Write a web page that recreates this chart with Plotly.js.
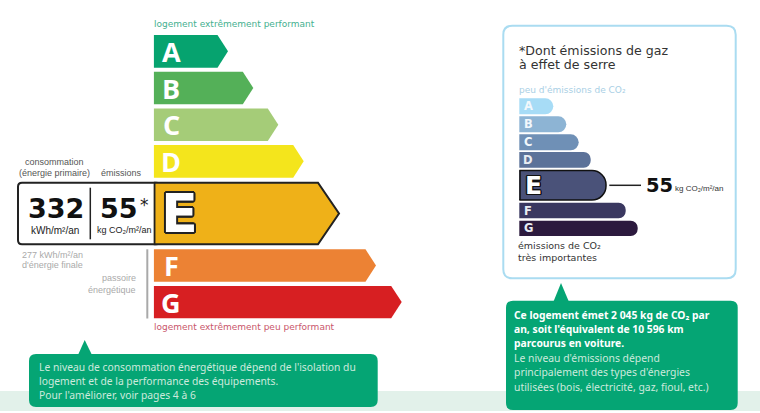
<!DOCTYPE html>
<html><head><meta charset="utf-8">
<script src="https://cdn.plot.ly/plotly-3.0.1.min.js"></script>
<style>html,body{margin:0;padding:0;background:#fff}#c{width:760px;height:413px}</style>
</head><body><div id="c"></div>
<script>
// Data
const energyGrades = ['A','B','C','D','E','F','G'];
const energyLengths = [74.3,99.6,124.6,150,185.3,222.3,248];
const energyColors = ['#06a36f','#54b058','#a5cc78','#f4e51c','#efb118','#ec8234','#d71f22'];
const co2Grades = ['A','B','C','D','E','F','G'];
const co2Lengths = [34,47,59.4,71.4,86.7,106.4,118.4];
const co2Colors = ['#a7dcf6','#8db4d4','#6f90b6','#5c7299','#4a5279','#3a3860','#2c1a3e'];
const energyValue = '332', co2Value = '55';

// Layout constants (pixels)
const W=760,H=413;
const energyCentres=[51.3,88,124.8,161.3,213.5,265.5,302.1], energyHeights=[32.7,32.7,32.5,32.7,61.6,32.4,32.4];
const co2Centres=[106.3,124.3,142.3,159.9,185.3,210.5,228.4], co2Heights=[16,16,16,15.7,29.4,15.7,15.4];
const OVERHANG=30; // part of each bar hidden left of the axis, so only its far end shows rounded
const px=x=>x/W, py=y=>1-y/H;
const DJ='"DejaVu Sans", sans-serif', LS='"Liberation Sans", Arial, sans-serif', NS='"Noto Sans", sans-serif', OS='"Open Sans", sans-serif';

const traces=[];
energyGrades.forEach((g,i)=>{
  const L=energyLengths[i],c=energyCentres[i],h=energyHeights[i],isE=g==='E',n=isE?21:10.5;
  traces.push({type:'scatter',mode:'lines',fill:'toself',fillcolor:energyColors[i],xaxis:'x',yaxis:'y',
    x:[0,L-n,L,L-n,0,0],y:[c-h/2,c-h/2,c,c+h/2,c+h/2,c-h/2],
    line:{color:isE?'#222':energyColors[i],width:isE?2:0},hoverinfo:'skip',showlegend:false,name:g});
});
co2Grades.forEach((g,i)=>{
  const isE=g==='E';
  traces.push({type:'bar',orientation:'h',xaxis:'x2',yaxis:'y2',
    x:[co2Lengths[i]+OVERHANG],y:[co2Centres[i]],width:[co2Heights[i]],base:-OVERHANG,
    marker:{color:co2Colors[i],cornerradius:isE?14:8,line:isE?{width:1.5,color:'#111'}:{width:0}},
    hoverinfo:'skip',showlegend:false,name:g});
});

const rr=(x0,y0,x1,y1,r)=>{
  const X=px,Y=py;
  return `M${X(x0+r)},${Y(y0)} L${X(x1-r)},${Y(y0)} Q${X(x1)},${Y(y0)} ${X(x1)},${Y(y0+r)} L${X(x1)},${Y(y1-r)} Q${X(x1)},${Y(y1)} ${X(x1-r)},${Y(y1)} L${X(x0+r)},${Y(y1)} Q${X(x0)},${Y(y1)} ${X(x0)},${Y(y1-r)} L${X(x0)},${Y(y0+r)} Q${X(x0)},${Y(y0)} ${X(x0+r)},${Y(y0)} Z`;
};
const P=(path,fill,line,layer)=>({type:'path',xref:'paper',yref:'paper',path,fillcolor:fill,line:line||{width:0},layer:layer||'below'});
const tri=(a,b,tx,ty,base)=>`M${px(a)},${py(base)} L${px(tx)},${py(ty)} L${px(b)},${py(base)} Z`;
const ln=(x0,y0,x1,y1,color,width)=>({type:'line',xref:'paper',yref:'paper',x0:px(x0),y0:py(y0),x1:px(x1),y1:py(y1),line:{color,width},layer:'above'});
const GREEN='#05a574';
const shapes=[
  {type:'rect',xref:'paper',yref:'paper',x0:0,x1:1,y0:py(411),y1:py(391),fillcolor:'#e2f1ea',line:{width:0},layer:'below'},
  P(rr(29,354,377.7,407,7),GREEN),
  P(tri(78,92,84.7,340,355),GREEN),
  P(rr(506,300.7,737.7,410,7),GREEN),
  P(tri(553.3,569,561,283,302),GREEN),
  P(rr(503.3,25.7,735.7,278.3,9),'#fff',{color:'#aadcf1',width:2}),
  P(rr(18,182.7,160,244.3,4),'#fff',{color:'#222',width:2}),
  ln(90.3,187.7,90.3,239.3,'#222',1.5),
  ln(154.7,182.7,154.7,244.3,'#222',1.5),
  ln(147.3,249.3,147.3,318.5,'#a9a9a9',2),
  ln(609.3,185.3,641,185.3,'#222',1.5),
  ln(520,170.6,520,200,'#111',1.5)
];
const T=(text,x,y,size,color,font,anchor,extra)=>Object.assign({text,xref:'paper',yref:'paper',x:px(x),y:py(y),
  xanchor:anchor||'left',yanchor:'middle',showarrow:false,borderpad:0,borderwidth:0,
  font:{size,color,family:font}},extra||{});
const stroke=(w,c)=>{const o=[];for(let a=0;a<16;a++){const t=a*Math.PI/8;o.push(`${(w*Math.cos(t)).toFixed(1)}px ${(w*Math.sin(t)).toFixed(1)}px 0 ${c}`);}return o.join(',');};
const annotations=[
  T('logement extrêmement performant',154,24,9,'#45b08f',DJ),
  T('logement extrêmement peu performant',154,326.7,9,'#c9566b',DJ),
  T('consommation',54,162,9,'#555',LS,'center'),
  T('(énergie primaire)',54,173,9,'#555',LS,'center'),
  T('émissions',121,173,9,'#555',LS,'center'),
  T('<b>'+energyValue+'</b>',56,208.5,27,'#111',DJ,'center'),
  T('<b>'+co2Value+'</b>',119.5,208.5,27,'#111',DJ,'center'),
  T('*',144,205,17,'#222',DJ,'center'),
  T('kWh/m²/an',54.5,230,10,'#222',LS,'center'),
  T('kg CO₂/m²/an',124,229.5,9,'#222',LS,'center'),
  T('277 kWh/m²/an',83,255,9,'#aaa',LS,'right'),
  T("d'énergie finale",83,265,9,'#aaa',LS,'right'),
  T('passoire',136,278,9,'#aaa',LS,'right'),
  T('énergétique',136,290,9,'#aaa',LS,'right'),
  T("Le niveau de consommation énergétique dépend de l'isolation du",39,367,10.3,'#cdeadd',NS),
  T('logement et de la performance des équipements.',39,381,10.3,'#cdeadd',NS),
  T("Pour l'améliorer, voir pages 4 à 6",39,395,10.3,'#cdeadd',NS),
  T('*Dont émissions de gaz',519,50,12.6,'#333',DJ),
  T('à effet de serre',519,64,12.6,'#333',DJ),
  T("peu d'émissions de CO₂",518.5,90,9,'#a9cfe5',DJ),
  T('émissions de CO₂',518,245,9.5,'#333',DJ),
  T('très importantes',518,257.5,9.5,'#333',DJ),
  T('<b>'+co2Value+'</b>',646,185,19.5,'#111',DJ),
  T('kg CO₂/m²/an',675,188,8,'#333',LS),
  T("<b>Ce logement émet 2 045 kg de CO₂ par</b>",514,315,10.3,'#fff',NS),
  T("<b>an, soit l'équivalent de 10 596 km</b>",514,329,10.3,'#fff',NS),
  T('<b>parcourus en voiture.</b>',514,343,10.3,'#fff',NS),
  T("Le niveau d'émissions dépend",514,358,10.4,'#cdeadd',NS),
  T("principalement des types d'énergies",514,372,10.4,'#cdeadd',NS),
  T('utilisées (bois, électricité, gaz, fioul, etc.)',514,386.5,10.4,'#cdeadd',NS)
];
energyGrades.forEach((g,i)=>{
  if(g==='E'){const a=T('<b>'+g+'</b>',179,213.5,54,'#fff',DJ,'center');a.font.shadow=stroke(2,'#222');annotations.push(a);}
  else annotations.push(T('<b>'+g+'</b>',171,energyCentres[i],27,'#fff',OS,'center'));
});
co2Grades.forEach((g,i)=>{
  if(g==='E'){const a=T('<b>'+g+'</b>',533,co2Centres[i],25,'#fff',DJ,'center');a.font.shadow=stroke(1.2,'#111');annotations.push(a);}
  else annotations.push(T('<b>'+g+'</b>',528,co2Centres[i],11.5,i<3?'#f2f8fc':'#e8ecf2',DJ,'center'));
});
const hid={visible:false,fixedrange:true};
const layout={width:W,height:H,margin:{l:0,r:0,t:0,b:0,pad:0},paper_bgcolor:'#fff',plot_bgcolor:'rgba(0,0,0,0)',showlegend:false,
  barmode:'overlay',
  xaxis:Object.assign({domain:[153.7/W,1],range:[0,W-153.7]},hid),
  yaxis:Object.assign({domain:[0,1],range:[H,0]},hid),
  xaxis2:Object.assign({domain:[519.3/W,1],range:[0,W-519.3],anchor:'y2'},hid),
  yaxis2:Object.assign({domain:[0,1],range:[H,0],anchor:'x2'},hid),
  shapes,annotations};
Plotly.newPlot('c',traces,layout,{staticPlot:true,displayModeBar:false});
</script></body></html>
